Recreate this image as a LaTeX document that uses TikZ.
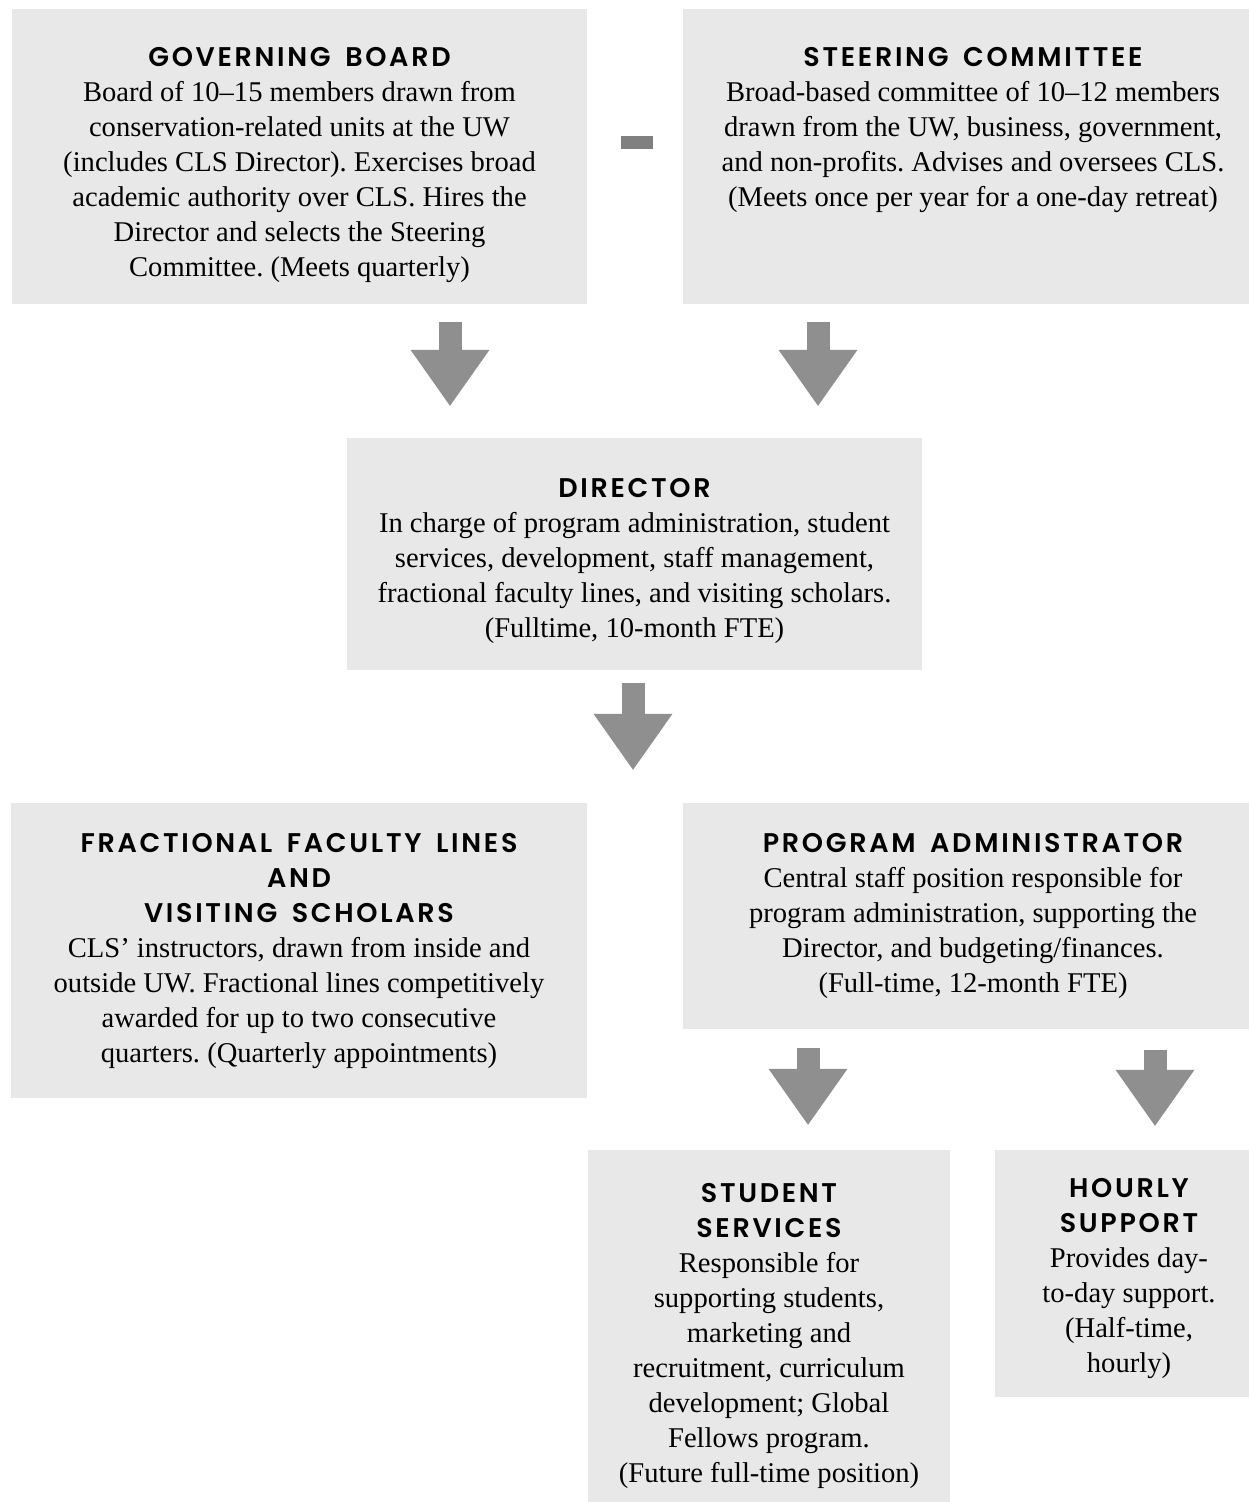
\documentclass[tikz,border=0pt]{standalone}
\usepackage{fontspec}
\setmainfont{Liberation Serif}
\newfontfamily\headfamily[LetterSpace=10,WordSpace=1.6,BoldFont={Poppins SemiBold}]{Poppins}
\usetikzlibrary{positioning,calc,arrows.meta}
\definecolor{boxgray}{HTML}{E8E8E8}
\definecolor{arrowgray}{HTML}{8F8F8F}
\definecolor{bargray}{HTML}{808080}
\newcommand{\hd}[1]{{\headfamily\bfseries\fontsize{27}{35}\selectfont #1}}
\frenchspacing

\begin{document}
\begin{tikzpicture}[x=1pt,y=-1pt,
	box/.style={fill=boxgray,inner sep=0pt},
	boxtext/.style={align=center,inner sep=0pt,font=\fontsize{28.6}{35}\selectfont},
	bigarrow/.style={arrowgray,line width=23pt,-{Triangle[length=56pt 0 1,width=79pt 0 1,line width=0pt]}},
	linkbar/.style={bargray,line width=13pt}]
	\useasboundingbox (0,0) rectangle (1248,1502);
	% Kaesten oben
	\node[box,minimum width=575pt,minimum height=295pt] (gb) at (299.5,156.5) {};
	\node[box,minimum width=580pt,minimum height=295pt] (sc) at (973,156.5) {};
	\node[boxtext,below=38pt of gb.north] (gbtext) {\hd{GOVERNING BOARD}\\
		Board of 10–15 members drawn from\\
		conservation-related units at the UW\\
		(includes CLS Director). Exercises broad\\
		academic authority over CLS. Hires the\\
		Director and selects the Steering\\
		Committee. (Meets quarterly)};
	\node[boxtext,below=38pt of sc.north] (sctext) {\hd{STEERING COMMITTEE}\\
		Broad-based committee of 10–12 members\\
		drawn from the UW, business, government,\\
		and non-profits. Advises and oversees CLS.\\
		(Meets once per year for a one-day retreat)};
	\draw[linkbar,shorten <=34pt,shorten >=30pt] ([yshift=14pt]gb.east) -- ([yshift=14pt]sc.west);
	% Direktor
	\node[box,minimum width=575pt,minimum height=232pt] (dir) at (634.5,554) {};
	\node[boxtext,below=40pt of dir.north] (dirtext) {\hd{DIRECTOR}\\
		In charge of program administration, student\\
		services, development, staff management,\\
		fractional faculty lines, and visiting scholars.\\
		(Fulltime, 10-month FTE)};
	% Mitte
	\node[box,minimum width=576pt,minimum height=295pt] (ffl) at (299,950.5) {};
	\node[box,minimum width=580pt,minimum height=226pt] (pa) at (973,916) {};
	\node[boxtext,below=30pt of ffl.north] (ffltext) {\hd{FRACTIONAL FACULTY LINES}\\
		\hd{AND}\\
		\hd{VISITING SCHOLARS}\\
		CLS’ instructors, drawn from inside and\\
		outside UW. Fractional lines competitively\\
		awarded for up to two consecutive\\
		quarters. (Quarterly appointments)};
	\node[boxtext,below=30pt of pa.north] (patext) {\hd{PROGRAM ADMINISTRATOR}\\
		Central staff position responsible for\\
		program administration, supporting the\\
		Director, and budgeting/finances.\\
		(Full-time, 12-month FTE)};
	% unten
	\node[box,minimum width=362pt,minimum height=360pt] (ss) at (769,1330) {};
	\node[box,minimum width=268pt,minimum height=247pt] (hs) at (1129,1273.5) {};
	\node[boxtext,below=33pt of ss.north] (sstext) {\hd{STUDENT}\\
		\hd{SERVICES}\\
		Responsible for\\
		supporting students,\\
		marketing and\\
		recruitment, curriculum\\
		development; Global\\
		Fellows program.\\
		(Future full-time position)};
	\node[boxtext,below=28pt of hs.north] (hstext) {\hd{HOURLY}\\
		\hd{SUPPORT}\\
		Provides day-\\
		to-day support.\\
		(Half-time,\\
		hourly)};
	% Pfeile
	\draw[bigarrow] ([xshift=150.5pt,yshift=-18pt]gb.south) -- ([xshift=-184.5pt,yshift=32pt]dir.north);
	\draw[bigarrow] ([xshift=-155pt,yshift=-18pt]sc.south) -- ([xshift=183.5pt,yshift=32pt]dir.north);
	\draw[bigarrow] ([xshift=-1.5pt,yshift=-13pt]dir.south) -- ($(dir.south |- ffl.north)+(-1.5,-33)$);
	\draw[bigarrow] ([xshift=-165pt,yshift=-19pt]pa.south) -- ([xshift=39pt,yshift=25pt]ss.north);
	\draw[bigarrow] ([xshift=182pt,yshift=-21pt]pa.south) -- ([xshift=26pt,yshift=24pt]hs.north);
\end{tikzpicture}
\end{document}
